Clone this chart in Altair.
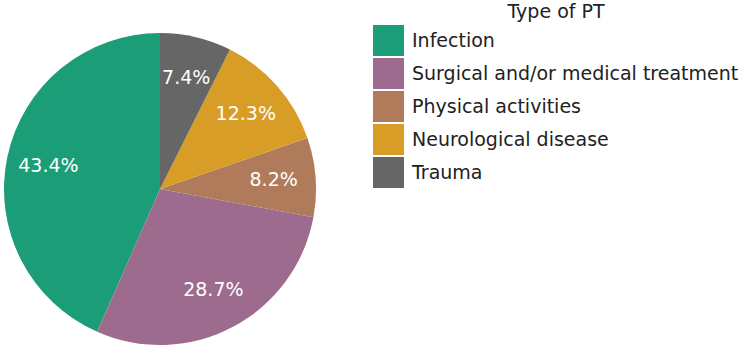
import altair as alt
import pandas as pd

# Causes of PT, in legend order, with their shares (%)
categories = [
    "Infection",
    "Surgical and/or medical treatment",
    "Physical activities",
    "Neurological disease",
    "Trauma",
]
shares = [43.4, 28.7, 8.2, 12.3, 7.4]
colors = ["#1b9e77", "#9c6b8e", "#b07b5b", "#d89d27", "#666666"]

df = pd.DataFrame({
    "type": categories,
    "share": shares,
    "rank": list(range(len(categories))),
})

FONT = "DejaVu Sans"
CX, CY, R = 160, 189, 156

base = alt.Chart(df).encode(
    theta=alt.Theta("share:Q", stack=True),
    order=alt.Order("rank:Q", sort="descending"),
)

pie = base.mark_arc(radius=R, x=CX, y=CY).encode(
    color=alt.Color(
        "type:N",
        scale=alt.Scale(domain=categories, range=colors),
        sort=categories,
        legend=alt.Legend(
            title="Type of PT",
            orient="none",
            legendX=373,
            legendY=3,
            symbolType="square",
            symbolSize=961,
            symbolStrokeWidth=0,
            symbolOpacity=1,
            rowPadding=2,
            labelOffset=8,
            labelFont=FONT,
            labelFontSize=19,
            labelColor="#222222",
            labelLimit=400,
            titleFont=FONT,
            titleFontSize=19,
            titleFontWeight="normal",
            titleColor="#222222",
            titleAnchor="middle",
            titlePadding=3,
        ),
    ),
)

labels = base.transform_calculate(
    label="format(datum.share, '.1f') + '%'"
).mark_text(
    radius=114, x=CX, y=CY, font=FONT, fontSize=19, color="white"
).encode(text="label:N")

chart = (
    alt.layer(pie, labels)
    .properties(width=742, height=348, padding=0, autosize=alt.AutoSizeParams(type="none"))
    .configure_view(stroke=None)
    .configure(background="white")
)

chart.save("out.html", embed_options={"renderer": "svg", "actions": False})
